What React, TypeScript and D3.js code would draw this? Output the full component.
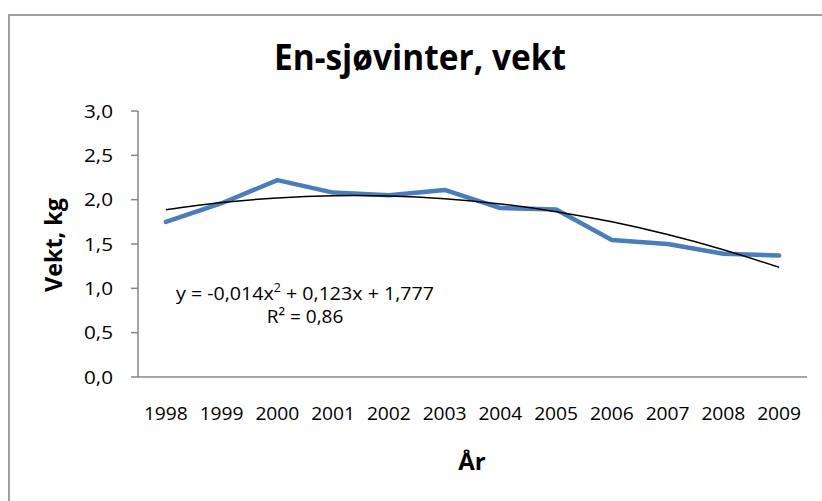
import * as d3 from 'd3'

// Data
const years = ['1998', '1999', '2000', '2001', '2002', '2003', '2004', '2005', '2006', '2007', '2008', '2009']
const weights = [1.75, 1.96, 2.22, 2.08, 2.05, 2.11, 1.905, 1.89, 1.545, 1.5, 1.39, 1.37]
const yTicks = [0, 0.5, 1, 1.5, 2, 2.5, 3]
// polynomial trendline coefficients as printed on the chart (x = 1..12)
const trendCoef = [-0.014, 0.123, 1.777]

const W = 822
const H = 501
const plot = { left: 138, right: 807, top: 111, bottom: 377 }
const font = '"Open Sans", "Liberation Sans", sans-serif'

export default function App() {
  const x = d3.scaleBand<string>().domain(years).range([plot.left, plot.right])
  const y = d3.scaleLinear().domain([0, 3]).range([plot.bottom, plot.top])
  const cx = (yr: string) => (x(yr) ?? 0) + x.bandwidth() / 2

  const line = d3.line<number>()
    .x((_, i) => cx(years[i]))
    .y(d => y(d))

  // trendline evaluated at each category index, drawn smooth
  const trend = years.map((_, i) => {
    const t = i + 1
    return trendCoef[0] * t * t + trendCoef[1] * t + trendCoef[2]
  })
  const trendLine = d3.line<number>()
    .x((_, i) => cx(years[i]))
    .y(d => y(d))
    .curve(d3.curveNatural)

  const fmt = (v: number) => v.toFixed(1).replace('.', ',')

  return (
    <svg width={W} height={H} style={{ position: 'absolute', left: 0, top: 0, background: '#fff' }} fontFamily={font}>
      {/* chart frame */}
      <rect x={9} y={15} width={840} height={520} fill="#fff" stroke="#a0a0a0" strokeWidth={2} />

      <text x={420} y={70} textAnchor="middle" fontSize={36} fontWeight="bold" textLength={292} lengthAdjust="spacingAndGlyphs">
        En-sjøvinter, vekt
      </text>

      {/* y axis */}
      <line x1={plot.left} x2={plot.left} y1={plot.top} y2={plot.bottom} stroke="#868686" strokeWidth={1.5} />
      {yTicks.map(t => (
        <g key={t}>
          <line x1={plot.left - 7} x2={plot.left} y1={y(t)} y2={y(t)} stroke="#868686" strokeWidth={1.5} />
          <text x={113} y={y(t)} dy="0.35em" textAnchor="end" fontSize={19} fill="#000" textLength={29} lengthAdjust="spacingAndGlyphs">{fmt(t)}</text>
        </g>
      ))}

      {/* x axis */}
      <line x1={plot.left} x2={plot.right} y1={plot.bottom} y2={plot.bottom} stroke="#868686" strokeWidth={1.5} />
      {years.map(yr => (
        <text key={yr} x={cx(yr)} y={420} textAnchor="middle" fontSize={19} fill="#000" textLength={44} lengthAdjust="spacingAndGlyphs">{yr}</text>
      ))}

      <text transform="translate(62,245) rotate(-90)" textAnchor="middle" fontSize={24} fontWeight="bold" textLength={94} lengthAdjust="spacingAndGlyphs">
        Vekt, kg
      </text>
      <text x={472} y={470} textAnchor="middle" fontSize={24} fontWeight="bold">År</text>

      {/* series */}
      <path d={line(weights) ?? ''} fill="none" stroke="#4a7ebb" strokeWidth={4.5} strokeLinejoin="round" strokeLinecap="round" />
      <path d={trendLine(trend) ?? ''} fill="none" stroke="#000" strokeWidth={1.5} />

      {/* trendline label */}
      <text x={305} y={300} textAnchor="middle" fontSize={19} fill="#000" textLength={258} lengthAdjust="spacingAndGlyphs">
        y = -0,014x<tspan dy={-8} fontSize={12}>2</tspan><tspan dy={8}> + 0,123x + 1,777</tspan>
      </text>
      <text x={305} y={323} textAnchor="middle" fontSize={19} fill="#000">R² = 0,86</text>
    </svg>
  )
}
